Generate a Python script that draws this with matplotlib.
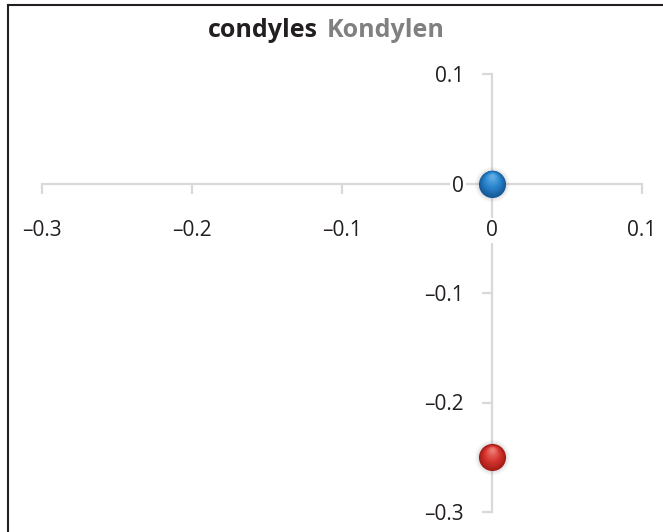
import numpy as np
import matplotlib.pyplot as plt
import matplotlib.transforms as mtransforms
from matplotlib.colors import to_rgb
from matplotlib.lines import Line2D

plt.rcParams['font.family'] = ['Open Sans', 'DejaVu Sans']

# data
x_vals = [0.0, 0.0]
y_vals = [0.0, -0.25]
point_colors = [('#17599a', '#2a86cf', '#6fb6ea'),   # blue: edge, body, highlight
                ('#a31b17', '#d8362f', '#f08a80')]   # red
x_ticks = [-0.3, -0.2, -0.1, 0.0, 0.1]
y_ticks = [-0.3, -0.2, -0.1, 0.0, 0.1]
title_a = 'condyles'
title_b = 'Kondylen'


def fmt(v):
    s = '%g' % round(v, 3)
    return s.replace('-', '\u2013')


fig = plt.figure(figsize=(6.63, 5.32), dpi=100)
ax = fig.add_axes([42 / 663, 1 - 512 / 532, 600 / 663, 438 / 532])
ax.set_xlim(-0.3, 0.1)
ax.set_ylim(-0.3, 0.1)

axis_col = '#d9d9d9'
for side in ['top', 'right']:
    ax.spines[side].set_visible(False)
ax.spines['left'].set_position(('data', 0))
ax.spines['bottom'].set_position(('data', 0))
for side in ['left', 'bottom']:
    ax.spines[side].set_color(axis_col)
    ax.spines[side].set_linewidth(1.6)
    ax.spines[side].set_zorder(1)

ax.set_xticks(x_ticks)
ax.set_yticks(y_ticks)
ax.set_xticklabels([fmt(v) for v in x_ticks])
ax.set_yticklabels([fmt(v) for v in y_ticks])
ax.tick_params(axis='x', direction='out', length=7, width=1.6, color=axis_col,
               pad=19, labelsize=15, labelcolor='#231f20')
ax.tick_params(axis='y', direction='out', length=7, width=1.6, color=axis_col,
               pad=13, labelsize=15, labelcolor='#231f20')
for lab in ax.get_xticklabels() + ax.get_yticklabels():
    lab.set_bbox(dict(facecolor='white', edgecolor='none', pad=1.5))
ax.patch.set_visible(False)

# shaded balls: stacked circles from dark edge to light highlight
n_layers = 14
base_size = 19.5  # marker diameter in points
for xv, yv, (c_edge, c_body, c_hi) in zip(x_vals, y_vals, point_colors):
    # soft shadow
    for k, a in enumerate([0.05, 0.07, 0.09]):
        ax.scatter([xv], [yv], s=(base_size + 6 - 2 * k) ** 2, color='#808080',
                   alpha=a, linewidths=0, zorder=4)
    e, b, h = np.array(to_rgb(c_edge)), np.array(to_rgb(c_body)), np.array(to_rgb(c_hi))
    for i in range(n_layers):
        t = i / (n_layers - 1)
        if t < 0.5:
            col = e + (b - e) * (t / 0.5)
        else:
            col = b + (h - b) * ((t - 0.5) / 0.5) * 0.8
        d = base_size * (1 - 0.85 * t)
        tr = mtransforms.offset_copy(ax.transData, fig=fig, x=0,
                                     y=base_size * 0.28 * t, units='points')
        ax.scatter([xv], [yv], s=d ** 2, color=col, linewidths=0,
                   transform=tr, zorder=5 + i)

# title in two colours
fig.text(318 / 663, 1 - 37 / 532, title_a, ha='right', va='baseline',
         fontsize=18, fontweight='bold', color='#231f20')
fig.text(327 / 663, 1 - 37 / 532, title_b, ha='left', va='baseline',
         fontsize=18, fontweight='bold', color='#808080')

# frame lines (top and left)
fig.add_artist(Line2D([8 / 663, 1], [1 - 5 / 532, 1 - 5 / 532],
                      transform=fig.transFigure, color='#231f20', lw=1.5))
fig.add_artist(Line2D([8 / 663, 8 / 663], [0, 1 - 5 / 532],
                      transform=fig.transFigure, color='#231f20', lw=1.5))

fig.savefig('out.png', dpi=100)
